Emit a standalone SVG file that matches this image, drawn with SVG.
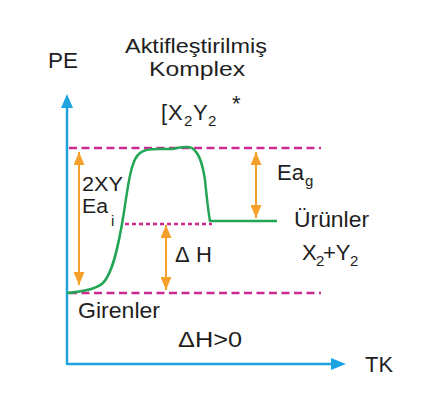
<svg xmlns="http://www.w3.org/2000/svg" width="439" height="400" viewBox="0 0 439 400">
<style>
text{font-family:"Liberation Sans",Arial,sans-serif;fill:#1e1e1e;font-size:22px}
.sub{font-size:15px}
.tight{font-size:20px}
.axis{stroke:#1ca3e0;stroke-width:2.5;fill:none}
.lvl{stroke:#cc2a90;stroke-width:2.5;fill:none;stroke-dasharray:8 4.5}
.dot{stroke:#cc2a90;stroke-width:2.5;fill:none;stroke-dasharray:4 3}
.curve{stroke:#23a556;stroke-width:2.5;fill:none;stroke-linejoin:round}
.arr{stroke:#f5a02a;stroke-width:2;fill:none}
</style>
<defs>
<marker id="oh" viewBox="0 0 13 11" refX="13" refY="5.5" markerWidth="13" markerHeight="11" markerUnits="userSpaceOnUse" orient="auto-start-reverse">
<path d="M0,0 L13,5.5 L0,11 Z" fill="#f5a02a"/>
</marker>
</defs>
<g id="axes">
<line class="axis" x1="67" y1="364" x2="67" y2="106"/>
<polygon points="67,94 61,108 73,108" fill="#1ca3e0"/>
<line class="axis" x1="66" y1="364" x2="332" y2="364"/>
<polygon points="346,364 331,358 331,370" fill="#1ca3e0"/>
</g>
<g id="levels">
<line class="lvl" x1="69" y1="148" x2="321" y2="148"/>
<line class="lvl" x1="69" y1="293" x2="321" y2="293"/>
<line class="dot" x1="125" y1="224" x2="212" y2="224"/>
</g>
<g id="curve">
<path class="curve" d="M67,293 C80,292 95,290 103,283 C112,274 118,250 124,212 C128,185 131,162 138,155 C142,150 148,149 160,149 L172,149 C180,148 186,145 192,148 C198,152 202,160 205,180 C207,200 208,210 210,221 L277,221"/>
</g>
<g id="arrows">
<line class="arr" x1="79" y1="152" x2="79" y2="285" marker-start="url(#oh)" marker-end="url(#oh)"/>
<line class="arr" x1="256" y1="152" x2="256" y2="218" marker-start="url(#oh)" marker-end="url(#oh)"/>
<line class="arr" x1="166" y1="225" x2="166" y2="290" marker-start="url(#oh)" marker-end="url(#oh)"/>
</g>
<g id="labels">
<text x="48" y="68" textLength="30" lengthAdjust="spacingAndGlyphs">PE</text>
<text class="tight" x="125" y="53" textLength="142" lengthAdjust="spacingAndGlyphs">Aktifleştirilmiş</text>
<text class="tight" x="149" y="75.5" textLength="96" lengthAdjust="spacingAndGlyphs">Komplex</text>
<text x="161" y="120">[</text>
<text x="168" y="120">X</text>
<text class="sub" x="184" y="126">2</text>
<text x="193" y="120">Y</text>
<text class="sub" x="208" y="126">2</text>
<text x="232" y="111" font-size="16">*</text>
<text class="tight" x="82" y="190.5" textLength="41" lengthAdjust="spacingAndGlyphs">2XY</text>
<text class="tight" x="82" y="212.5" textLength="26" lengthAdjust="spacingAndGlyphs">Ea</text>
<text class="sub" x="111" y="226">i</text>
<text x="277" y="180">Ea</text>
<text class="sub" x="305" y="186">g</text>
<text x="294" y="227" textLength="75" lengthAdjust="spacingAndGlyphs">Ürünler</text>
<text x="302" y="260">X</text>
<text class="sub" x="316" y="266">2</text>
<text x="323" y="260">+Y</text>
<text class="sub" x="350" y="266">2</text>
<text x="175" y="262">Δ</text>
<text x="196" y="262">H</text>
<text x="78" y="318" textLength="82" lengthAdjust="spacingAndGlyphs">Girenler</text>
<text x="178" y="347" textLength="64" lengthAdjust="spacingAndGlyphs">ΔH&gt;0</text>
<text x="365" y="372" textLength="28" lengthAdjust="spacingAndGlyphs">TK</text>
</g>
</svg>
